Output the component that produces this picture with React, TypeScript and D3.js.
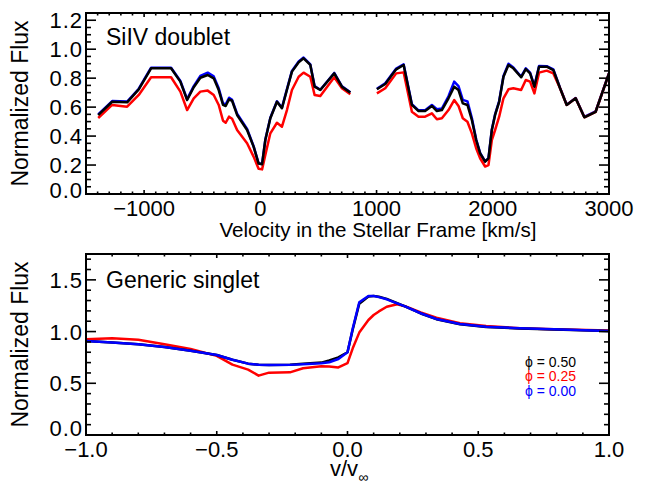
import React from "react";
import * as d3 from "d3";

// ---------- Top panel: SiIV doublet ----------
const siVelocity = [
  -1395, -1275, -1146, -1046, -940, -768, -688, -630, -573, -516, -453, -401, -358, -321, -298, -269, -243, -200,
  -114, -58, -15, 15, 43, 86, 143, 186, 229, 272, 330, 372, 430, 467, 516, 636, 702, 774,
  890,
  1003, 1075, 1169, 1233, 1304, 1361, 1418, 1476, 1519, 1562, 1619, 1668, 1705, 1742, 1782, 1820, 1857, 1891,
  1934, 1963, 1992, 2020, 2055, 2092, 2135, 2177, 2244, 2284, 2321, 2358, 2398, 2464, 2521, 2579, 2636, 2713,
  2788, 2885, 3000,
];
const siFluxPhase050: (number | null)[] = [
  0.545, 0.637, 0.633, 0.723, 0.868, 0.868, 0.776, 0.649, 0.737, 0.803, 0.822, 0.799, 0.718, 0.615, 0.608, 0.654,
  0.644, 0.546, 0.442, 0.327, 0.21, 0.205, 0.373, 0.523, 0.637, 0.592, 0.72, 0.845, 0.91, 0.937, 0.891, 0.741,
  0.718, 0.833, 0.741, 0.7,
  null,
  0.723, 0.76, 0.861, 0.891, 0.615, 0.573, 0.573, 0.608, 0.573, 0.58, 0.661, 0.741, 0.718, 0.626, 0.615, 0.511,
  0.373, 0.281, 0.223, 0.246, 0.442, 0.546, 0.637, 0.81, 0.891, 0.868, 0.806, 0.863, 0.833, 0.741, 0.879, 0.879,
  0.856, 0.73, 0.615, 0.661, 0.53, 0.568, 0.833,
];
const siFluxPhase025: (number | null)[] = [
  0.525, 0.615, 0.603, 0.684, 0.806, 0.806, 0.707, 0.58, 0.661, 0.707, 0.714, 0.684, 0.615, 0.506, 0.492, 0.534,
  0.52, 0.442, 0.35, 0.258, 0.175, 0.17, 0.27, 0.419, 0.492, 0.465, 0.58, 0.718, 0.81, 0.838, 0.81, 0.684, 0.677,
  0.806, 0.73, 0.689,
  null,
  0.695, 0.73, 0.833, 0.84, 0.568, 0.534, 0.534, 0.557, 0.516, 0.523, 0.58, 0.649, 0.608, 0.523, 0.499, 0.419,
  0.316, 0.247, 0.19, 0.2, 0.373, 0.442, 0.534, 0.661, 0.723, 0.73, 0.718, 0.787, 0.776, 0.695, 0.838, 0.852,
  0.833, 0.73, 0.615, 0.661, 0.53, 0.568, 0.833,
];
const siFluxPhase000: (number | null)[] = [
  0.55, 0.642, 0.638, 0.727, 0.872, 0.872, 0.78, 0.655, 0.745, 0.815, 0.838, 0.812, 0.73, 0.625, 0.62, 0.665,
  0.65, 0.555, 0.45, 0.33, 0.212, 0.207, 0.376, 0.526, 0.64, 0.596, 0.724, 0.85, 0.915, 0.942, 0.895, 0.745,
  0.72, 0.836, 0.744, 0.702,
  null,
  0.727, 0.765, 0.866, 0.896, 0.62, 0.578, 0.578, 0.615, 0.585, 0.59, 0.675, 0.776, 0.745, 0.65, 0.64, 0.525,
  0.378, 0.284, 0.225, 0.248, 0.446, 0.55, 0.642, 0.815, 0.9, 0.874, 0.81, 0.868, 0.838, 0.746, 0.884, 0.883,
  0.86, 0.733, 0.617, 0.663, 0.532, 0.57, 0.835,
];
const siXTicks = [-1000, 0, 1000, 2000, 3000];
const siYTicks = [0, 0.2, 0.4, 0.6, 0.8, 1.0, 1.2];

// ---------- Bottom panel: generic singlet ----------
const singletX = [
  -1, -0.9, -0.8, -0.7, -0.6, -0.5, -0.44, -0.38, -0.34, -0.3, -0.22, -0.17, -0.1, -0.07, -0.035, 0, 0.02, 0.045,
  0.08, 0.1, 0.12, 0.15, 0.19, 0.22, 0.28, 0.34, 0.43, 0.53, 0.66, 0.79, 1.0,
];
const singletPhase050 = [
  0.909, 0.895, 0.878, 0.851, 0.815, 0.774, 0.728, 0.69, 0.68, 0.677, 0.68, 0.69, 0.7, 0.72, 0.75, 0.8, 1.02, 1.27,
  1.34, 1.345, 1.337, 1.316, 1.274, 1.243, 1.175, 1.12, 1.07, 1.045, 1.03, 1.02, 1.005,
];
const singletPhase025 = [
  0.925, 0.935, 0.92, 0.877, 0.832, 0.765, 0.68, 0.632, 0.574, 0.603, 0.606, 0.645, 0.665, 0.663, 0.653, 0.695,
  0.838, 0.99, 1.112, 1.16, 1.195, 1.24, 1.264, 1.245, 1.185, 1.134, 1.08, 1.054, 1.032, 1.022, 1.01,
];
const singletPhase000 = [
  0.909, 0.895, 0.878, 0.851, 0.815, 0.774, 0.728, 0.69, 0.68, 0.677, 0.678, 0.684, 0.693, 0.703, 0.735, 0.8,
  1.03, 1.283, 1.344, 1.344, 1.333, 1.312, 1.273, 1.243, 1.177, 1.122, 1.073, 1.047, 1.032, 1.022, 1.006,
];
const singletXTicks = [-1, -0.5, 0, 0.5, 1];
const singletYTicks = [0, 0.5, 1.0, 1.5];

const legendLabels = ["\u03d5 = 0.50", "\u03d5 = 0.25", "\u03d5 = 0.00"];
const seriesColors = ["#000000", "#ff0000", "#0000ff"];

const FONT = "'Liberation Sans', Arial, Helvetica, sans-serif";

type FrameProps = {
  x: d3.ScaleLinear<number, number>;
  y: d3.ScaleLinear<number, number>;
  xTicks: number[];
  yTicks: number[];
  xMinor: number[];
  yMinor: number[];
  xFmt: (v: number) => string;
  yFmt: (v: number) => string;
  xLabelY: number;
  zeroShift: number;
};

function Frame({ x, y, xTicks, yTicks, xMinor, yMinor, xFmt, yFmt, xLabelY, zeroShift }: FrameProps) {
  const [x0, x1] = x.range();
  const [y0, y1] = y.range(); // y0 bottom, y1 top
  const ticks: React.ReactNode[] = [];
  const yMajLen = 10, yMinLen = 5, xMajLen = 4, xMinLen = 2.5;
  xMinor.forEach((v, i) => {
    const px = x(v);
    const major = xTicks.some((t) => Math.abs(t - v) < 1e-9);
    const L = major ? xMajLen : xMinLen;
    ticks.push(<line key={"xb" + i} x1={px} x2={px} y1={y0} y2={y0 - L} />);
    ticks.push(<line key={"xt" + i} x1={px} x2={px} y1={y1} y2={y1 + L} />);
  });
  yMinor.forEach((v, i) => {
    const py = y(v);
    const major = yTicks.some((t) => Math.abs(t - v) < 1e-9);
    const L = major ? yMajLen : yMinLen;
    ticks.push(<line key={"yl" + i} x1={x0} x2={x0 + L} y1={py} y2={py} />);
    ticks.push(<line key={"yr" + i} x1={x1} x2={x1 - L} y1={py} y2={py} />);
  });
  const yMin = y.domain()[0];
  return (
    <g>
      <g stroke="#000" strokeWidth={1.6}>{ticks}</g>
      <rect x={x0} y={y1} width={x1 - x0} height={y0 - y1} fill="none" stroke="#000" strokeWidth={2} />
      <g fontFamily={FONT} fontSize={22} fill="#000">
        {xTicks.map((t) => (
          <text key={"xl" + t} x={x(t)} y={xLabelY} textAnchor="middle">
            {xFmt(t)}
          </text>
        ))}
        {yTicks.map((t) => (
          <text
            key={"yl" + t}
            x={x0 - 3}
            y={y(t) + 8 - (t === yMin ? zeroShift : 0)}
            textAnchor="end"
            letterSpacing={1}
          >
            {yFmt(t)}
          </text>
        ))}
      </g>
    </g>
  );
}

export default function App() {
  const left = 86, right = 609;

  // top panel
  const xTop = d3.scaleLinear().domain([-1500, 3000]).range([left, right]);
  const yTop = d3.scaleLinear().domain([0, 1.25]).range([194, 13]);
  const topLine = (vals: (number | null)[]) =>
    d3
      .line<number>()
      .defined((_, i) => vals[i] !== null)
      .x((v) => xTop(v))
      .y((_, i) => yTop(vals[i] as number))(siVelocity) || "";

  // bottom panel
  const xBot = d3.scaleLinear().domain([-1, 1]).range([left, right]);
  const yBot = d3.scaleLinear().domain([0, 1.75]).range([435, 254]);
  const botLine = (vals: number[]) =>
    d3
      .line<number>()
      .x((v) => xBot(v))
      .y((_, i) => yBot(vals[i]))(singletX) || "";

  const topMinorX = d3.range(-1500, 3000.1, 100);
  const topMinorY = d3.range(0, 1.2501, 0.05).map((v) => +v.toFixed(2));
  const botMinorX = d3.range(-1, 1.0001, 0.1).map((v) => +v.toFixed(2));
  const botMinorY = d3.range(0, 1.7501, 0.1).map((v) => +v.toFixed(2));

  const fmtInt = d3.format("d");
  const fmt1 = d3.format(".1f");

  return (
    <svg
      width={647}
      height={483}
      style={{ position: "absolute", left: 0, top: 0, background: "#fff" }}
      fontFamily={FONT}
    >
      <rect x={0} y={0} width={647} height={483} fill="#fff" />
      <defs>
        <clipPath id="clipTop">
          <rect x={left} y={13} width={right - left} height={181} />
        </clipPath>
        <clipPath id="clipBot">
          <rect x={left} y={254} width={right - left} height={181} />
        </clipPath>
      </defs>

      {/* top panel lines */}
      <g fill="none" strokeWidth={2.5} strokeLinejoin="round" clipPath="url(#clipTop)">
        <path d={topLine(siFluxPhase000)} stroke={seriesColors[2]} />
        <path d={topLine(siFluxPhase025)} stroke={seriesColors[1]} />
        <path d={topLine(siFluxPhase050)} stroke={seriesColors[0]} />
      </g>
      <Frame
        x={xTop}
        y={yTop}
        xTicks={siXTicks}
        yTicks={siYTicks}
        xMinor={topMinorX}
        yMinor={topMinorY}
        xFmt={fmtInt}
        yFmt={fmt1}
        xLabelY={216}
        zeroShift={4}
      />
      <text x={106} y={45} fontSize={23}>
        SiIV doublet
      </text>
      <text x={378} y={237} fontSize={20.6} textAnchor="middle">
        Velocity in the Stellar Frame [km/s]
      </text>
      <text transform="translate(28,103.5) rotate(-90)" fontSize={23} textAnchor="middle">
        Normalized Flux
      </text>

      {/* bottom panel lines */}
      <g fill="none" strokeWidth={2.5} strokeLinejoin="round" clipPath="url(#clipBot)">
        <path d={botLine(singletPhase025)} stroke={seriesColors[1]} />
        <path d={botLine(singletPhase050)} stroke={seriesColors[0]} />
        <path d={botLine(singletPhase000)} stroke={seriesColors[2]} />
      </g>
      <Frame
        x={xBot}
        y={yBot}
        xTicks={singletXTicks}
        yTicks={singletYTicks}
        xMinor={botMinorX}
        yMinor={botMinorY}
        xFmt={fmt1}
        yFmt={fmt1}
        xLabelY={457}
        zeroShift={7}
      />
      <text x={106} y={288} fontSize={23}>
        Generic singlet
      </text>
      <text transform="translate(28,344.5) rotate(-90)" fontSize={23} textAnchor="middle">
        Normalized Flux
      </text>
      <text x={330} y={476} fontSize={22}>
        v/v
        <tspan fontSize={14} dy={6}>
          ∞
        </tspan>
      </text>

      {/* legend */}
      <g fontSize={14}>
        {legendLabels.map((l, i) => (
          <text key={l} x={525} y={367 + i * 14.3} fill={seriesColors[i]}>
            {l}
          </text>
        ))}
      </g>
    </svg>
  );
}
